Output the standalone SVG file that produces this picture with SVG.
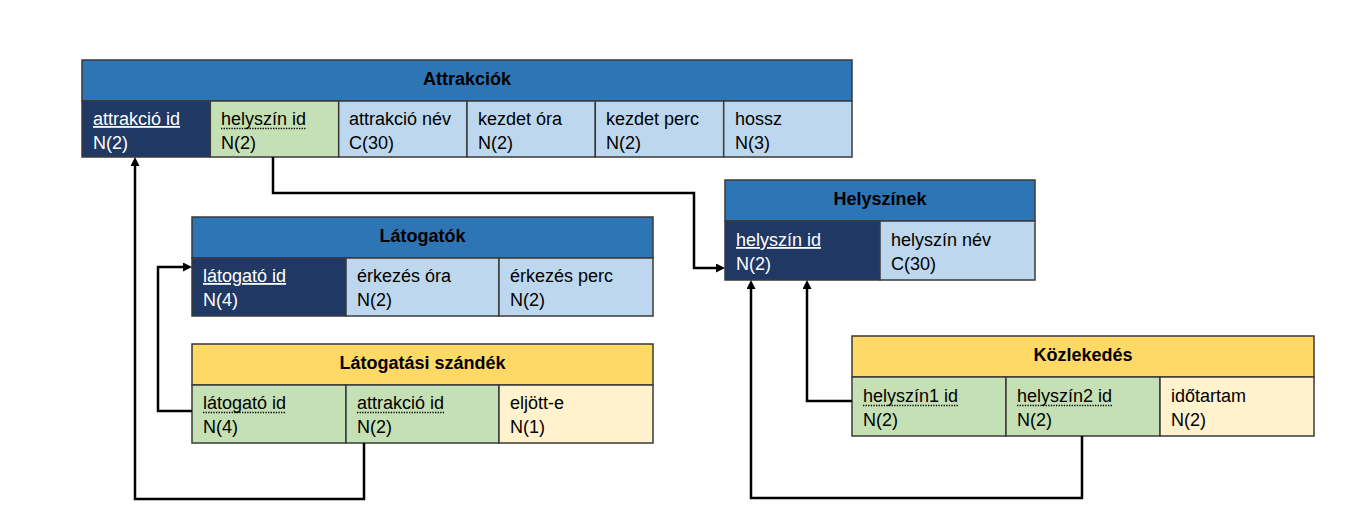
<svg xmlns="http://www.w3.org/2000/svg" width="1365" height="532" viewBox="0 0 1365 532">
<style>
  .hdrB { fill:#2E75B6; stroke:#3a3a3a; stroke-width:1.5; }
  .hdrY { fill:#FFD966; stroke:#3a3a3a; stroke-width:1.5; }
  .pk { fill:#203864; stroke:#3a3a3a; stroke-width:1.5; }
  .fk { fill:#C5E0B4; stroke:#3a3a3a; stroke-width:1.5; }
  .at { fill:#BDD7EE; stroke:#3a3a3a; stroke-width:1.5; }
  .aty { fill:#FFF2CC; stroke:#3a3a3a; stroke-width:1.5; }
  text { font-family:"Liberation Sans", Arial, sans-serif; font-size:18px; fill:#000; }
  .title { font-weight:bold; text-anchor:middle; }
  .w { fill:#fff; }
  .pku { text-decoration-line:underline; }
  .dot { stroke:#000; stroke-width:1.3; stroke-dasharray:1.3 1.3; fill:none; }
  .conn { fill:none; stroke:#000; stroke-width:2.5; stroke-linejoin:miter; }
</style>
<defs>
  <marker id="arr" markerUnits="userSpaceOnUse" markerWidth="10" markerHeight="10" refX="3" refY="4.5" orient="auto">
    <path d="M0,0 L9,4.5 L0,9 z" fill="#000"/>
  </marker>
</defs>

<g id="attrakciok">
  <rect class="hdrB" x="82" y="60" width="770" height="41"/>
  <text class="title" x="467" y="85">Attrakciók</text>
  <rect class="pk" x="82" y="101" width="128.3" height="56"/>
  <rect class="fk" x="210.3" y="101" width="128.4" height="56"/>
  <rect class="at" x="338.7" y="101" width="128.3" height="56"/>
  <rect class="at" x="467" y="101" width="128.3" height="56"/>
  <rect class="at" x="595.3" y="101" width="128.4" height="56"/>
  <rect class="at" x="723.7" y="101" width="128.3" height="56"/>
  <text class="w pku" x="93" y="125">attrakció id</text>
  <text class="w" x="93" y="149">N(2)</text>
  <text x="221" y="125">helyszín id</text>
  <line class="dot" x1="221" y1="128.5" x2="306" y2="128.5"/>
  <text x="221" y="149">N(2)</text>
  <text x="349" y="125">attrakció név</text>
  <text x="349" y="149">C(30)</text>
  <text x="478" y="125">kezdet óra</text>
  <text x="478" y="149">N(2)</text>
  <text x="606" y="125">kezdet perc</text>
  <text x="606" y="149">N(2)</text>
  <text x="735" y="125">hossz</text>
  <text x="735" y="149">N(3)</text>
</g>

<g id="helyszinek">
  <rect class="hdrB" x="725" y="180" width="310" height="41"/>
  <text class="title" x="880" y="205">Helyszínek</text>
  <rect class="pk" x="725" y="221" width="155" height="59"/>
  <rect class="at" x="880" y="221" width="155" height="59"/>
  <text class="w pku" x="736" y="246">helyszín id</text>
  <text class="w" x="736" y="270">N(2)</text>
  <text x="891" y="246">helyszín név</text>
  <text x="891" y="270">C(30)</text>
</g>

<g id="latogatok">
  <rect class="hdrB" x="192" y="217" width="461" height="41"/>
  <text class="title" x="422.5" y="242">Látogatók</text>
  <rect class="pk" x="192" y="258" width="154" height="58"/>
  <rect class="at" x="346" y="258" width="153" height="58"/>
  <rect class="at" x="499" y="258" width="154" height="58"/>
  <text class="w pku" x="203" y="282">látogató id</text>
  <text class="w" x="203" y="306">N(4)</text>
  <text x="357" y="282">érkezés óra</text>
  <text x="357" y="306">N(2)</text>
  <text x="510" y="282">érkezés perc</text>
  <text x="510" y="306">N(2)</text>
</g>

<g id="latogatasi-szandek">
  <rect class="hdrY" x="192" y="344" width="461" height="41"/>
  <text class="title" x="422.5" y="369">Látogatási szándék</text>
  <rect class="fk" x="192" y="385" width="154" height="58"/>
  <rect class="fk" x="346" y="385" width="153" height="58"/>
  <rect class="aty" x="499" y="385" width="154" height="58"/>
  <text x="203" y="409">látogató id</text>
  <line class="dot" x1="203" y1="412.5" x2="286" y2="412.5"/>
  <text x="203" y="433">N(4)</text>
  <text x="357" y="409">attrakció id</text>
  <line class="dot" x1="357" y1="412.5" x2="444" y2="412.5"/>
  <text x="357" y="433">N(2)</text>
  <text x="510" y="409">eljött-e</text>
  <text x="510" y="433">N(1)</text>
</g>

<g id="kozlekedes">
  <rect class="hdrY" x="852" y="336" width="462" height="41"/>
  <text class="title" x="1083" y="361">Közlekedés</text>
  <rect class="fk" x="852" y="377" width="154" height="59"/>
  <rect class="fk" x="1006" y="377" width="154" height="59"/>
  <rect class="aty" x="1160" y="377" width="154" height="59"/>
  <text x="863" y="402">helyszín1 id</text>
  <line class="dot" x1="863" y1="405.5" x2="958" y2="405.5"/>
  <text x="863" y="426">N(2)</text>
  <text x="1017" y="402">helyszín2 id</text>
  <line class="dot" x1="1017" y1="405.5" x2="1112" y2="405.5"/>
  <text x="1017" y="426">N(2)</text>
  <text x="1171" y="402">időtartam</text>
  <text x="1171" y="426">N(2)</text>
</g>

<g id="connectors">
  <path class="conn" d="M273,157 V193 H694 V268 H719" marker-end="url(#arr)"/>
  <path class="conn" d="M364,443 V499 H135 V163" marker-end="url(#arr)"/>
  <path class="conn" d="M192,411 H158 V267 H186" marker-end="url(#arr)"/>
  <path class="conn" d="M852,401 H807 V286" marker-end="url(#arr)"/>
  <path class="conn" d="M1082,436 V498 H751 V286" marker-end="url(#arr)"/>
</g>
</svg>
